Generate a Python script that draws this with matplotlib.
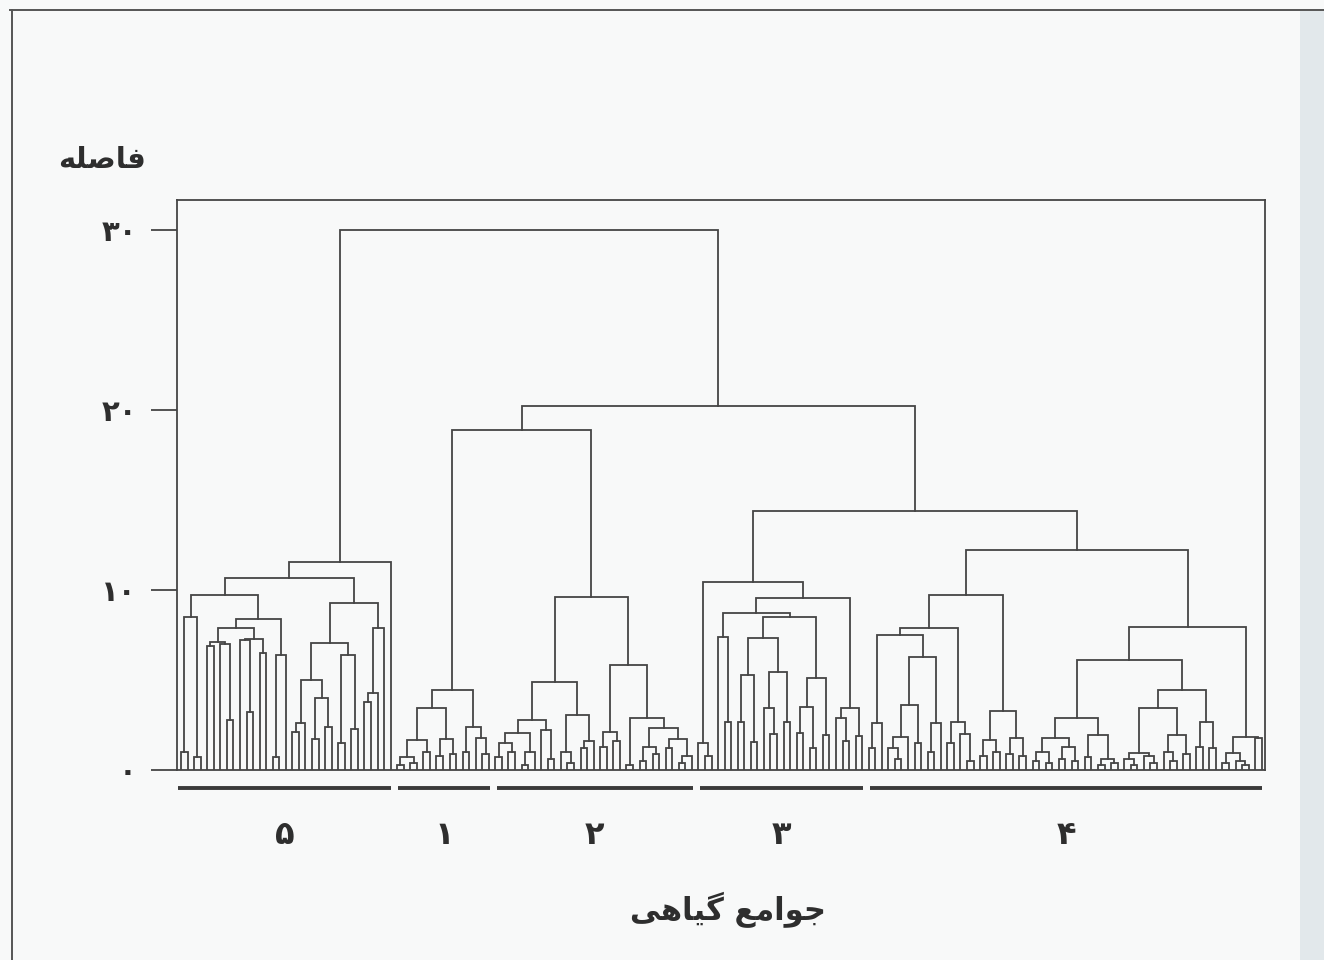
import matplotlib
matplotlib.use('Agg')
import matplotlib.pyplot as plt
from matplotlib.lines import Line2D
from matplotlib.patches import Rectangle

plt.rcParams['font.family'] = ['DejaVu Sans']

# leaf marker; every node is (height, left, right)
L = 0

cluster5 = (11.55,
            (10.67,
             (9.7,
              (8.5, (1.0, L, L), (0.7, L, L)),
              (8.4,
               (7.9,
                (7.1, (6.9, L, L), (7.0, L, (2.8, L, L))),
                (7.3, (7.2, L, (3.2, L, L)), (6.5, L, L))),
               (6.4, (0.7, L, L), L))),
             (9.3,
              (7.05,
               (5.0, (2.6, (2.1, L, L), L), (4.0, (1.7, L, L), (2.4, L, L))),
               (6.4, (1.5, L, L), (2.3, L, L))),
              (7.9, (4.3, (3.8, L, L), L), L))),
            L)

cluster1 = (4.45,
            (3.45,
             (1.65, (0.7, (0.3, L, L), (0.4, L, L)), (1.0, L, L)),
             (1.7, (0.8, L, L), (0.9, L, L))),
            (2.4, (1.0, L, L), (1.8, L, (0.9, L, L))))

cluster2 = (9.6,
            (4.9,
             (2.8,
              (2.05, (1.5, (0.7, L, L), (1.0, L, L)), (1.0, (0.3, L, L), L)),
              (2.2, L, (0.6, L, L))),
             (3.05, (1.0, L, (0.4, L, L)), (1.6, (1.2, L, L), L))),
            (5.85,
             (2.1, (1.3, L, L), (1.6, L, L)),
             (2.9, (0.3, L, L),
              (2.35, (1.3, (0.5, L, L), (0.9, L, L)),
               (1.7, (1.2, L, L), (0.8, (0.4, L, L), L))))))

cluster3 = (10.45,
            (1.5, L, (0.8, L, L)),
            (9.55,
             (8.7,
              (7.4, L, (2.65, L, L)),
              (8.5,
               (7.35, (5.3, (2.65, L, L), (1.55, L, L)),
                (5.45, (3.45, L, (2.0, L, L)), (2.65, L, L))),
               (5.1, (3.5, (2.05, L, L), (1.2, L, L)), (1.95, L, L)))),
             (3.45, (2.9, L, (1.6, L, L)), (1.9, L, L))))

cluster4 = (12.2,
            (9.7,
             (7.9,
              (7.5,
               (2.6, (1.2, L, L), L),
               (6.3,
                (3.6, (1.85, (1.2, L, (0.6, L, L)), L), (1.5, L, L)),
                (2.6, (1.0, L, L), L))),
              (2.65, (1.5, L, L), (2.0, L, (0.5, L, L)))),
             (3.3, (1.65, (0.8, L, L), (1.0, L, L)),
              (1.8, (0.9, L, L), (0.8, L, L)))),
            (7.95,
             (6.1,
              (2.9,
               (1.8, (1.0, (0.5, L, L), (0.4, L, L)),
                (1.3, (0.6, L, L), (0.5, L, L))),
               (1.95, (0.7, L, L), (0.6, (0.3, L, L), (0.4, L, L)))),
              (4.45,
               (3.45,
                (0.95, (0.6, L, (0.3, L, L)), (0.8, L, (0.4, L, L))),
                (1.95, (1.0, L, (0.5, L, L)), (0.9, L, L))),
               (2.65, (1.3, L, L), (1.2, L, L)))),
             (1.85, (0.95, (0.4, L, L), (0.5, L, (0.3, L, L))), (1.8, L, L))))

h_12 = 18.9
h_34 = 14.4
h_1234 = 20.2
h_root = 30.0

clusters = [cluster5, cluster1, cluster2, cluster3, cluster4]
cluster_labels = ['\u06F5', '\u06F1', '\u06F2', '\u06F3', '\u06F4']
y_ticks = [0, 10, 20, 30]
y_tick_labels = ['\u06F0', '\u06F1\u06F0', '\u06F2\u06F0', '\u06F3\u06F0']
y_title = '\uFEEA\uFEE0\uFEBB\uFE8E\uFED3'   # فاصله (shaped, visual order)
x_title = '\uFBFD\uFEEB\uFE8E\uFBFF\uFB94 \uFECA\uFEE3\uFE8D\uFEEE\uFE9F'  # جوامع گیاهی

tree = (h_root, cluster5, (h_1234, (h_12, cluster1, cluster2), (h_34, cluster3, cluster4)))

segments = []
counter = [0]


def place(node):
    if not isinstance(node, tuple):
        x = counter[0]
        counter[0] += 1
        return x, 0.0
    h, left, right = node
    xl, hl = place(left)
    xr, hr = place(right)
    segments.append(([xl, xl, xr, xr], [hl, h, h, hr]))
    return (xl + xr) / 2, h


def n_leaves(node):
    if not isinstance(node, tuple):
        return 1
    return n_leaves(node[1]) + n_leaves(node[2])


place(tree)

W, H = 1324, 960
bg = '#f8f9f9'
ink = '#454545'
fig = plt.figure(figsize=(W / 100, H / 100), dpi=100, facecolor=bg)
ax = fig.add_axes([177 / W, 190 / H, 1088 / W, 570 / H])
ax.set_facecolor(bg)

for xs, ys in segments:
    ax.plot(xs, ys, color=ink, lw=1.3, solid_joinstyle='miter')

ax.set_xlim(-4 / 6.55, 1084 / 6.55)
ax.set_ylim(0, 570 / 18.0)
ax.set_xticks([])
ax.set_yticks(y_ticks, labels=y_tick_labels)
ax.tick_params(axis='y', length=19, width=1.3, color=ink, pad=10,
               labelsize=21, labelcolor='#2e2e2e')
for lab in ax.get_yticklabels():
    lab.set_fontweight('bold')
for sp in ax.spines.values():
    sp.set_color(ink)
    sp.set_linewidth(1.3)

# cluster bars and numbers under the leaves
start = 0
for tr, lab in zip(clusters, cluster_labels):
    n = n_leaves(tr)
    x0, x1 = start + 0.2, start + n - 0.9
    if start == 0:
        x0 = start - 0.4
    ax.plot([x0, x1], [-0.032, -0.032], color='#3a3a3a', lw=2.8,
            transform=ax.get_xaxis_transform(), clip_on=False, solid_capstyle='butt')
    ax.text((x0 + x1) / 2, -0.115, lab, transform=ax.get_xaxis_transform(),
            ha='center', va='center', fontsize=23, fontweight='bold', color='#2e2e2e')
    start += n

fig.text(102 / W, 1 - 160 / H, y_title, ha='center', va='center',
         fontsize=21, fontweight='bold', color='#2e2e2e')
fig.text(728 / W, 1 - 910 / H, x_title, ha='center', va='center',
         fontsize=22, fontweight='bold', color='#2e2e2e')

# page frame of the scan
fig.add_artist(Line2D([10 / W, 1], [1 - 10 / H] * 2, transform=fig.transFigure,
                      color='#555555', lw=1.4))
fig.add_artist(Line2D([12 / W] * 2, [0, 1 - 10 / H], transform=fig.transFigure,
                      color='#555555', lw=1.4))
fig.add_artist(Rectangle((1300 / W, 0), 24 / W, 1 - 11 / H, transform=fig.transFigure,
                         facecolor='#e2e8eb', edgecolor='none'))

fig.savefig('out.png', dpi=100, facecolor=fig.get_facecolor())
